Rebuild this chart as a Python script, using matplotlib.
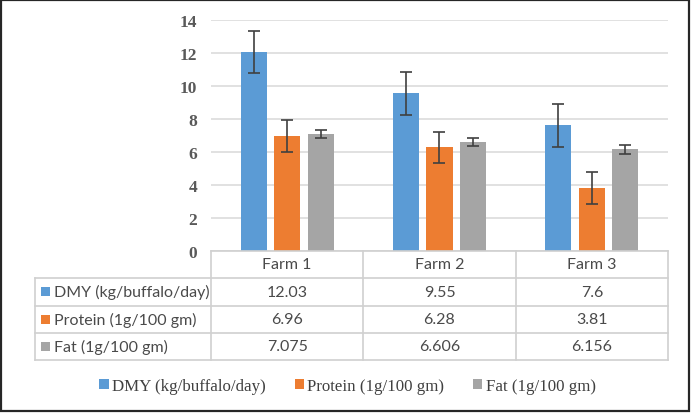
import matplotlib.pyplot as plt
import numpy as np
from matplotlib.patches import Rectangle, Patch

farms = ['Farm 1', 'Farm 2', 'Farm 3']
series = ['DMY (kg/buffalo/day)', 'Protein (1g/100 gm)', 'Fat (1g/100 gm)']
dmy = [12.03, 9.55, 7.6]
protein = [6.96, 6.28, 3.81]
fat = [7.075, 6.606, 6.156]
dmy_err = [1.28, 1.30, 1.28]
protein_err = [0.95, 0.95, 0.95]
fat_err = [0.26, 0.26, 0.27]
colors = ['#5B9BD5', '#ED7D31', '#A5A5A5']

W, H = 691, 414
# plot area in pixels (from top-left)
left, right, top, bottom = 211, 668, 20.7, 252
row_edges = [252, 279, 306.7, 334, 361]
table_left = 34.7

fig = plt.figure(figsize=(W / 100, H / 100), dpi=100)
ax = fig.add_axes([left / W, 1 - bottom / H, (right - left) / W, (bottom - top) / H])

x = np.arange(len(farms))
width = 0.171
step = 0.219
values = [dmy, protein, fat]
errors = [dmy_err, protein_err, fat_err]
for i, (vals, errs) in enumerate(zip(values, errors)):
    ax.bar(x + (i - 1) * step, vals, width, color=colors[i], yerr=errs, zorder=3,
           error_kw=dict(ecolor='#404040', elinewidth=1.2, capsize=4.5, capthick=1.2))

ax.set_xlim(-0.5, 2.5)
ax.set_ylim(0, 14)
ax.set_yticks(range(0, 15, 2))
ax.set_xticks([])
ax.grid(axis='y', color='#D9D9D9', lw=1.1, zorder=0)
for s in ax.spines.values():
    s.set_visible(False)
ax.tick_params(axis='y', length=0, pad=10)
for lab in ax.get_yticklabels():
    lab.set_fontfamily('Liberation Serif')
    lab.set_fontweight('bold')
    lab.set_fontsize(12.5)
    lab.set_color('#595959')

# data table under the chart, drawn in pixel coordinates
tab = fig.add_axes([0, 0, 1, 1])
tab.set_xlim(0, W)
tab.set_ylim(H, 0)
tab.axis('off')
line_kw = dict(color='#D0D0D0', lw=1.2)
col_w = (right - left) / len(farms)
col_edges = [left + k * col_w for k in range(len(farms) + 1)]
tab.plot([left, right], [row_edges[0]] * 2, **line_kw)
for y in row_edges[1:]:
    tab.plot([table_left, right], [y, y], **line_kw)
tab.plot([table_left, table_left], [row_edges[1], row_edges[-1]], **line_kw)
for cx in col_edges:
    tab.plot([cx, cx], [row_edges[0], row_edges[-1]], **line_kw)

font_tab = dict(family='Lato', fontsize=11.5, color='#4a4a4a', va='center')
for j, farm in enumerate(farms):
    tab.text(left + (j + 0.5) * col_w, (row_edges[0] + row_edges[1]) / 2, farm,
             ha='center', **font_tab)
for i, name in enumerate(series):
    yc = (row_edges[i + 1] + row_edges[i + 2]) / 2
    tab.add_patch(Rectangle((40.7, yc - 4.5), 9, 9, color=colors[i], lw=0))
    tab.text(54.3, yc, name, ha='left', **font_tab)
    for j, v in enumerate(values[i]):
        tab.text(left + (j + 0.5) * col_w, yc, str(v), ha='center', **font_tab)

# outer frame
tab.add_patch(Rectangle((1, 1), W - 3, H - 2.5, fill=False, ec='#262626', lw=1.6,
                        clip_on=False))

handles = [Patch(color=c, lw=0) for c in colors]
fig.legend(handles, series, loc='center', bbox_to_anchor=(347.5 / W, 1 - 386.7 / H),
           ncol=3, frameon=False, handlelength=0.55, handleheight=0.55,
           handletextpad=0.2, columnspacing=1.7,
           prop=dict(family='Liberation Serif', size=12.2), labelcolor='#404040')

fig.savefig('out.png', dpi=100)
